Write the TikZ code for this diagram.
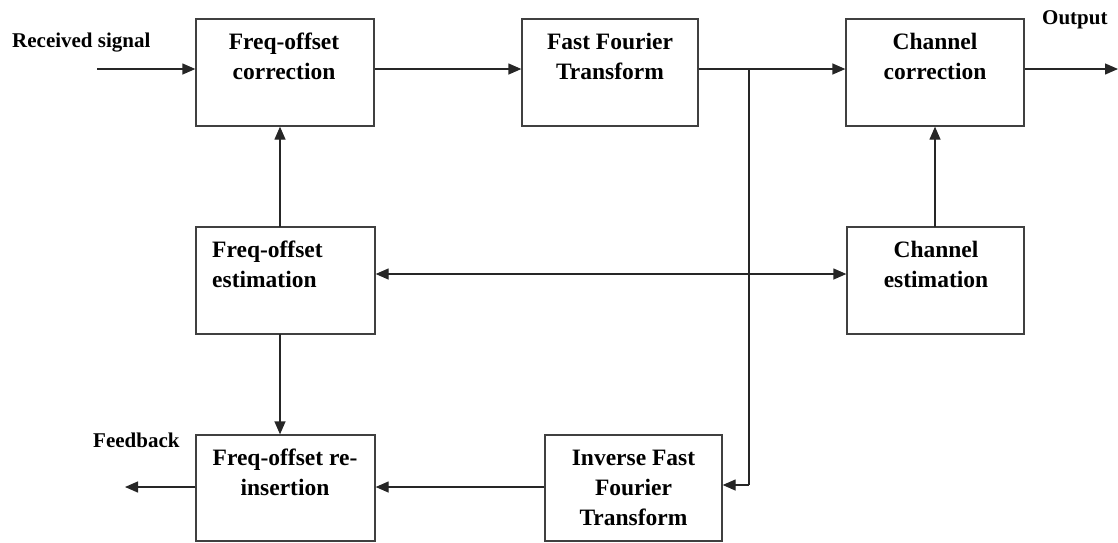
\documentclass[tikz,border=0pt]{standalone}
\usepackage{fontspec}
\setmainfont{Liberation Serif}
\usetikzlibrary{arrows.meta}
\tikzset{
  blk/.style={draw=black!75, line width=1.3pt, rectangle, inner sep=0pt},
  blktext/.style={font=\fontsize{23.5}{30}\selectfont\bfseries, align=center, anchor=base, inner sep=0pt},
  lbl/.style={font=\fontsize{21}{24}\selectfont\bfseries, anchor=base west, inner sep=0pt},
  tip/.style={Triangle[length=13pt,width=11pt]},
  conn/.style={draw=black!85, line width=1.3pt, -{Triangle[length=13pt,width=11pt]}},
  dconn/.style={draw=black!85, line width=1.3pt, {Triangle[length=13pt,width=11pt]}-{Triangle[length=13pt,width=11pt]}},
  plain/.style={draw=black!85, line width=1.3pt}
}
\begin{document}
\begin{tikzpicture}[x=1pt,y=-1pt]
\useasboundingbox (0,0) rectangle (1118,542);
% boxes
\node[blk, minimum width=178pt, minimum height=107pt] (foc) at (285,72.5) {};
\node[blk, minimum width=176pt, minimum height=107pt] (fft) at (610,72.5) {};
\node[blk, minimum width=178pt, minimum height=107pt] (cc) at (935,72.5) {};
\node[blk, minimum width=179pt, minimum height=107pt] (foe) at (285.5,280.5) {};
\node[blk, minimum width=177pt, minimum height=107pt] (ce) at (935.5,280.5) {};
\node[blk, minimum width=179pt, minimum height=106pt] (for) at (285.5,488) {};
\node[blk, minimum width=177pt, minimum height=106pt] (ifft) at (633.5,488) {};
% texts (base anchor = baseline of last line)
\node[blktext] (tfoc) at (284,79) {Freq-offset\\correction};
\node[blktext] (tfft) at (610,79) {Fast Fourier\\Transform};
\node[blktext] (tcc) at (935,79) {Channel\\correction};
\node[blktext, align=left, anchor=base west] (tfoe) at (212,287) {Freq-offset\\estimation};
\node[blktext] (tce) at (936,287) {Channel\\estimation};
\node[blktext] (tfor) at (285,495) {Freq-offset re-\\insertion};
\node[blktext] (tifft) at (633.5,525) {Inverse Fast\\Fourier\\Transform};
% labels
\node[lbl] (lrec) at (12,47) {Received signal};
\node[lbl] (lout) at (1042,24) {Output};
\node[lbl] (lfb) at (93,447) {Feedback};
% free ends
\coordinate (inS) at (97,69);
\coordinate (outE) at (1118,69);
\coordinate (fbE) at (125,487);
\coordinate (br) at (749,69);
\coordinate (brD) at (749,485);
% connectors
\draw[conn] (inS) -- (inS -| foc.west);
\draw[conn] (foc.east |- inS) -- (fft.west |- inS);
\draw[conn] (fft.east |- inS) -- (cc.west |- inS);
\draw[conn] (cc.east |- inS) -- (outE);
\draw[plain] (br) -- (brD);
\draw[conn] (brD) -- (ifft.east |- brD);
\draw[conn] (ifft.west |- fbE) -- (for.east |- fbE);
\draw[conn] (for.west |- fbE) -- (fbE);
\draw[conn] (280,227) coordinate (a1) -- (a1 |- foc.south);
\draw[conn] (280,334) coordinate (a2) -- (a2 |- for.north);
\draw[conn] (935,227) coordinate (a3) -- (a3 |- cc.south);
\draw[dconn] (foe.east |- 0,274) -- (ce.west |- 0,274);
\end{tikzpicture}
\end{document}
